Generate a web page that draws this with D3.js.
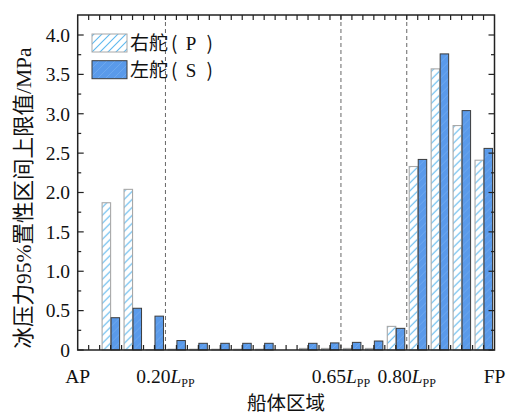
<!DOCTYPE html>
<html><head><meta charset="utf-8">
<script src="https://cdn.jsdelivr.net/npm/d3@7"></script>
<style>
html,body{margin:0;padding:0;background:#fff;}
svg{display:block;}
text{font-family:"Liberation Serif","Times New Roman","Noto Sans CJK SC",serif;fill:#111;}
tspan.cjk,text.cjk{font-family:"Noto Sans CJK SC",sans-serif;}
tspan.lat,text.lat{font-family:"Liberation Serif","Times New Roman",serif;}
</style></head>
<body>
<svg id="c" width="506" height="415"></svg>
<script>
// ---- data ----
const sections = ["AP","S1","S2","S3","S4","S5","S6","S7","S8","S9","S10","S11","S12","S13","S14","S15","S16","S17","S18"];
const portValues = [0, 1.87, 2.04, 0.005, 0.01, 0.01, 0.01, 0.01, 0.01, 0, 0.02, 0.02, 0.02, 0.02, 0.30, 2.33, 3.57, 2.85, 2.41];
const starboardValues = [0, 0.41, 0.53, 0.43, 0.12, 0.085, 0.085, 0.085, 0.085, 0, 0.085, 0.09, 0.097, 0.114, 0.275, 2.42, 3.76, 3.04, 2.56];
const seriesNames = [["右舵", "P"], ["左舵", "S"]];
const yTicks = [0, 0.5, 1.0, 1.5, 2.0, 2.5, 3.0, 3.5, 4.0];
const yTickLabels = ["0", "0.5", "1.0", "1.5", "2.0", "2.5", "3.0", "3.5", "4.0"];
const xMarkLabels = ["AP", "0.20", "0.65", "0.80", "FP"];
const xMarkBoundary = [0, 4, 12, 15, 19];   // boundary index between sections
const xMarkSub = [false, true, true, true, false];
const dashedBoundaries = [4, 12, 15];
const yTitleParts = [["冰压力", "cjk"], ["95%", "lat"], ["置性区间上限值", "cjk"], ["/MPa", "lat"]];
const xTitle = "船体区域";

// ---- layout ----
const L = 77.7, R = 494.5, T = 15, B = 350;
const svg = d3.select("#c");

const x0 = d3.scaleBand().domain(sections).range([L, R]).paddingInner(0.18).paddingOuter(0.09);
const x1 = d3.scaleBand().domain([0, 1]).range([0, x0.bandwidth()]);
const y = d3.scaleLinear().domain([0, 4.254]).range([B, T]);
const step = x0.step();
const bx = i => L + i * step; // boundary position from scale step

// patterns
const defs = svg.append("defs");
const pP = defs.append("pattern").attr("id", "hatchP").attr("patternUnits", "userSpaceOnUse")
  .attr("width", 8).attr("height", 8);
pP.append("rect").attr("width", 8).attr("height", 8).attr("fill", "#fff");
pP.append("path").attr("d", "M-2,2 L2,-2 M0,8 L8,0 M6,10 L10,6").attr("stroke", "#5fb9ef").attr("stroke-width", 1.1);
const pS = defs.append("pattern").attr("id", "hatchS").attr("patternUnits", "userSpaceOnUse")
  .attr("width", 8).attr("height", 8);
pS.append("rect").attr("width", 8).attr("height", 8).attr("fill", "#5a9aea");
pS.append("path").attr("d", "M-2,2 L2,-2 M0,8 L8,0 M6,10 L10,6").attr("stroke", "#76aeef").attr("stroke-width", 0.7);

// dashed lines
svg.append("g").selectAll("line").data(dashedBoundaries).join("line")
  .attr("x1", d => bx(d)).attr("x2", d => bx(d)).attr("y1", T).attr("y2", B)
  .attr("stroke", "#666").attr("stroke-width", 1).attr("stroke-dasharray", "4,3");

// bars
const rows = sections.map((s, i) => ({ s, v: [portValues[i], starboardValues[i]] }));
const g = svg.append("g");
const grp = g.selectAll("g").data(rows).join("g").attr("transform", d => `translate(${x0(d.s)},0)`);
grp.selectAll("rect").data(d => d.v.map((v, k) => ({ v, k }))).join("rect")
  .filter(d => d.v > 0)
  .attr("x", d => x1(d.k) + 0.5)
  .attr("width", x1.bandwidth() - 0.5)
  .attr("y", d => y(d.v))
  .attr("height", d => B - y(d.v))
  .attr("fill", d => d.k === 0 ? "url(#hatchP)" : "url(#hatchS)")
  .attr("stroke", d => d.k === 0 ? "#a8a8a8" : "#3c3c3c")
  .attr("stroke-width", d => d.k === 0 ? 1.1 : 1);

// frame
svg.append("rect").attr("x", L).attr("y", T).attr("width", R - L).attr("height", B - T)
  .attr("fill", "none").attr("stroke", "#222").attr("stroke-width", 1.5);

// y ticks (left and right, inward)
const yMinor = d3.range(0.25, 4.25, 0.5);
const tg = svg.append("g").attr("stroke", "#222").attr("stroke-width", 1.2);
yTicks.forEach(v => {
  tg.append("line").attr("x1", L).attr("x2", L + 6).attr("y1", y(v)).attr("y2", y(v));
  tg.append("line").attr("x1", R).attr("x2", R - 6).attr("y1", y(v)).attr("y2", y(v));
});
yMinor.forEach(v => {
  tg.append("line").attr("x1", L).attr("x2", L + 3.5).attr("y1", y(v)).attr("y2", y(v));
  tg.append("line").attr("x1", R).attr("x2", R - 3.5).attr("y1", y(v)).attr("y2", y(v));
});
// x ticks at half steps (bottom & top, inward)
const halfTicks = d3.range(1, sections.length * 2).map(i => L + i * step / 2);
halfTicks.forEach(px => {
  tg.append("line").attr("x1", px).attr("x2", px).attr("y1", B).attr("y2", B - 5);
  tg.append("line").attr("x1", px).attr("x2", px).attr("y1", T).attr("y2", T + 5);
});

// y tick labels
svg.append("g").selectAll("text").data(yTicks).join("text")
  .attr("class", "lat")
  .attr("x", 70).attr("y", d => y(d)).attr("dy", "0.35em").attr("text-anchor", "end")
  .attr("font-size", 19.5).text((d, i) => yTickLabels[i]);

// x mark labels
const xl = svg.append("g");
xMarkLabels.forEach((t, i) => {
  const tx = xl.append("text").attr("class", "lat").attr("x", bx(xMarkBoundary[i])).attr("y", 383)
    .attr("text-anchor", "middle").attr("font-size", 19.5);
  tx.append("tspan").text(t);
  if (xMarkSub[i]) {
    tx.append("tspan").attr("font-style", "italic").text("L");
    tx.append("tspan").attr("font-size", 12).attr("dy", 4).text("PP");
  }
});

// axis titles
svg.append("text").attr("class", "cjk").attr("x", (L + R) / 2).attr("y", 410).attr("text-anchor", "middle")
  .attr("font-size", 19.5).text(xTitle);
const yt = svg.append("text").attr("transform", "translate(31,198) rotate(-90)").attr("text-anchor", "middle")
  .attr("font-size", 21.5);
yTitleParts.forEach(p => yt.append("tspan").attr("class", p[1]).text(p[0]));

// legend
const lg = svg.append("g");
seriesNames.forEach((n, i) => {
  const yy = 34 + i * 26.7;
  const cy = yy + 9;
  lg.append("rect").attr("x", 92).attr("y", yy).attr("width", 35).attr("height", 18)
    .attr("fill", i === 0 ? "url(#hatchP)" : "url(#hatchS)")
    .attr("stroke", i === 0 ? "#a8a8a8" : "#3c3c3c").attr("stroke-width", 1);
  lg.append("text").attr("class", "cjk").attr("x", 130).attr("y", cy).attr("dy", "0.36em")
    .attr("font-size", 19).text(n[0]);
  lg.append("text").attr("class", "cjk").attr("x", 171).attr("y", cy).attr("dy", "0.36em")
    .attr("font-size", 19).text("(");
  lg.append("text").attr("class", "lat").attr("x", 191).attr("y", cy).attr("dy", "0.36em")
    .attr("text-anchor", "middle").attr("font-size", 19).text(n[1]);
  lg.append("text").attr("class", "cjk").attr("x", 213).attr("y", cy).attr("dy", "0.36em")
    .attr("text-anchor", "end").attr("font-size", 19).text(")");
});
</script>
</body></html>
